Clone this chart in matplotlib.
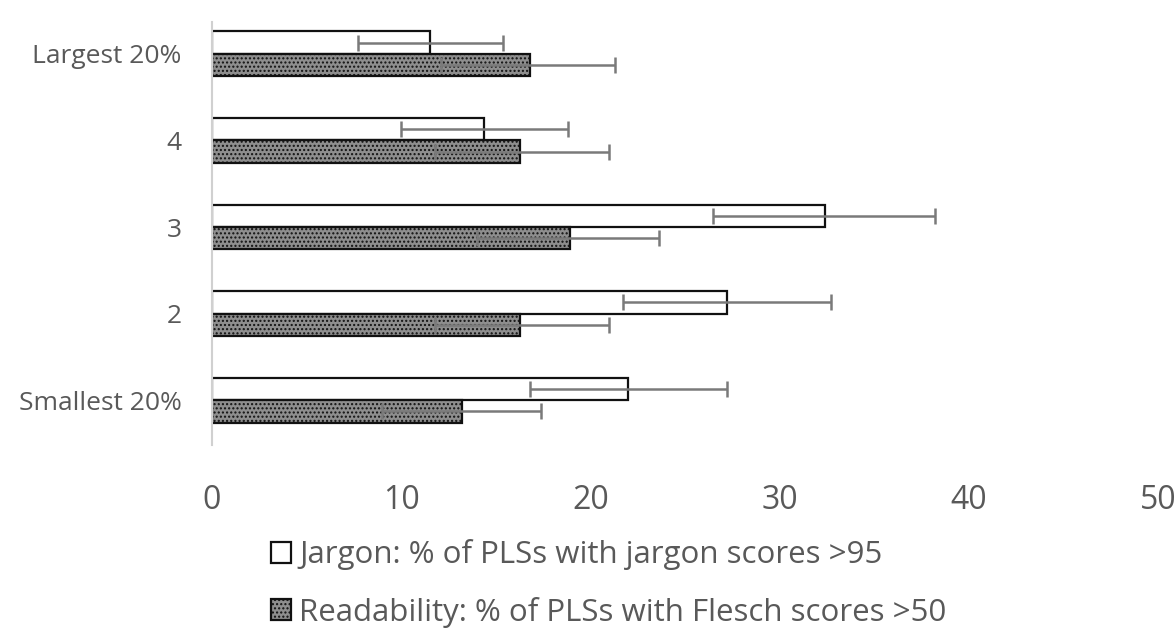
import numpy as np
import matplotlib.pyplot as plt

plt.rcParams['font.family'] = ['Open Sans', 'DejaVu Sans']
plt.rcParams['hatch.color'] = '#6e6e6e'

categories = ['Smallest 20%', '2', '3', '4', 'Largest 20%']
jargon = [22.0, 27.2, 32.4, 14.4, 11.5]
jargon_lo = [16.8, 21.7, 26.5, 10.0, 7.7]
jargon_hi = [27.2, 32.7, 38.2, 18.8, 15.4]
readability = [13.2, 16.3, 18.9, 16.3, 16.8]
readability_lo = [9.0, 11.8, 14.0, 11.8, 12.1]
readability_hi = [17.4, 21.0, 23.6, 21.0, 21.3]

fig = plt.figure(figsize=(11.74, 6.39), dpi=100)
ax = fig.add_axes([0.1806, 0.3036, 0.8058, 0.662])

y = np.arange(len(categories))
h = 0.26
j = np.array(jargon)
r = np.array(readability)
j_err = [j - np.array(jargon_lo), np.array(jargon_hi) - j]
r_err = [r - np.array(readability_lo), np.array(readability_hi) - r]

ecfg = dict(ecolor='#7a7a7a', elinewidth=1.8, capsize=6, capthick=1.8, zorder=5)
ax.barh(y + h / 2, j, height=h, color='white', edgecolor='#111111',
        linewidth=1.6, label='Jargon: % of PLSs with jargon scores >95',
        xerr=j_err, error_kw=ecfg)
ax.barh(y - h / 2, r, height=h, color='#8e8e8e', edgecolor='#111111',
        linewidth=1.6, hatch='....',
        label='Readability: % of PLSs with Flesch scores >50',
        xerr=r_err, error_kw=ecfg)

ax.set_xlim(0, 50)
ax.set_ylim(-0.52, 4.37)
ax.set_xticks(range(0, 51, 10))
ax.set_yticks(y)
ax.set_yticklabels(categories)
ax.tick_params(axis='x', labelsize=23, colors='#595959', length=0, pad=28)
ax.tick_params(axis='y', labelsize=19, colors='#595959', length=0, pad=22)
for s in ['top', 'right', 'bottom']:
    ax.spines[s].set_visible(False)
ax.spines['left'].set_color('#d0d0d0')
ax.spines['left'].set_linewidth(1.5)

leg = fig.legend(loc='upper left', bbox_to_anchor=(0.207, 0.2), frameon=False,
                 fontsize=22.5, labelcolor='#595959', handlelength=0.65,
                 handleheight=0.65, handletextpad=0.25, labelspacing=0.85)

fig.savefig('out.png', dpi=100)
